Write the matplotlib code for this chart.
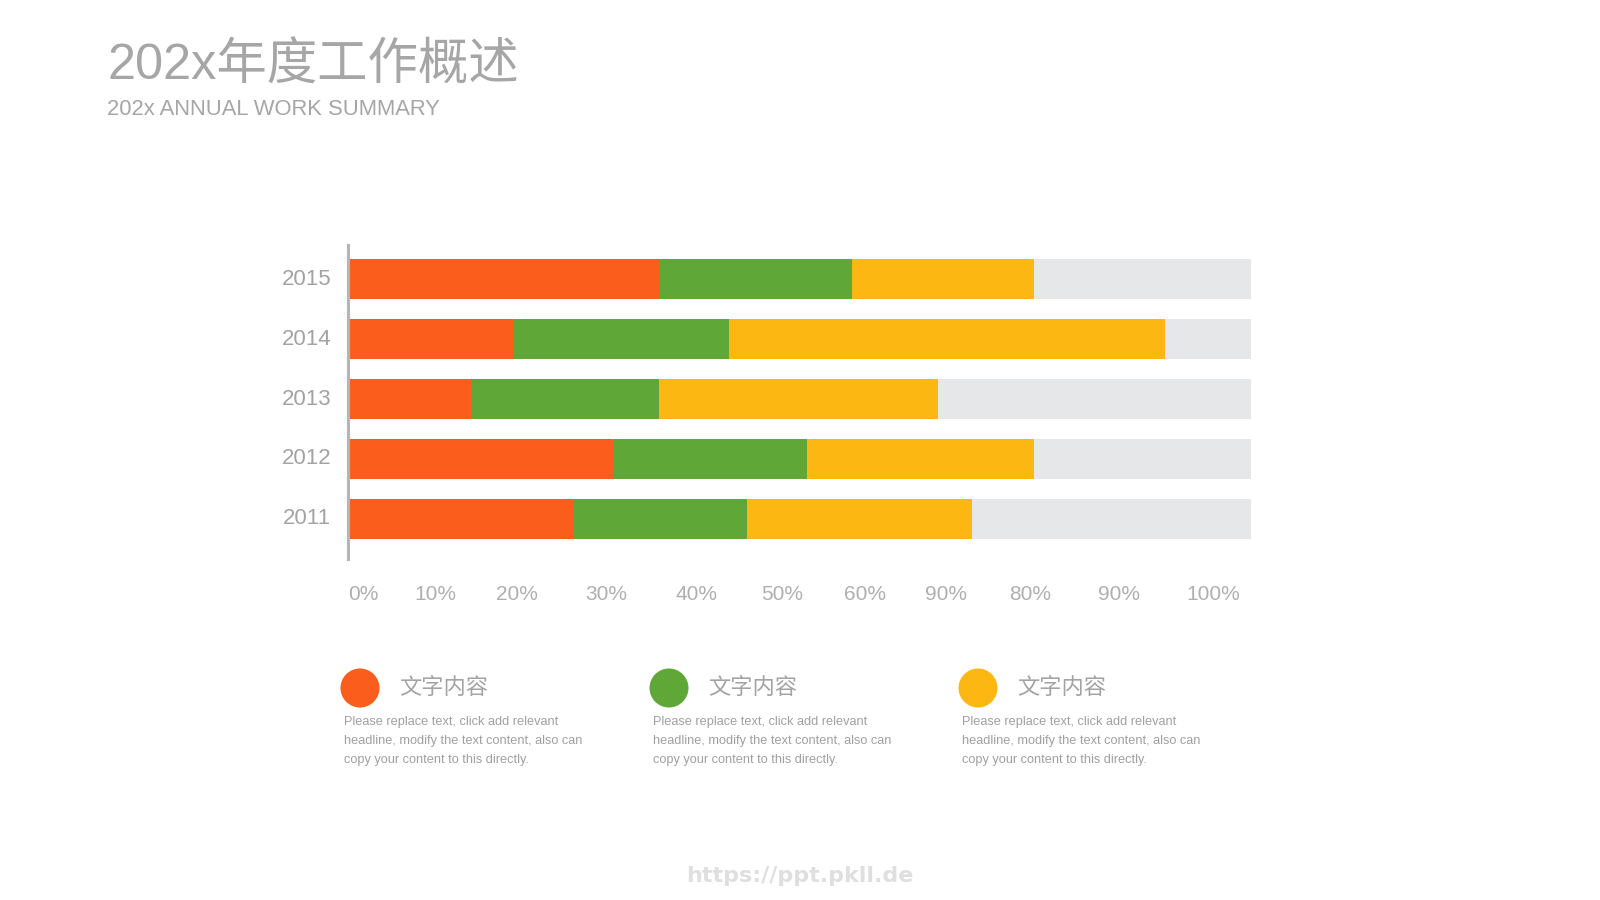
import matplotlib
matplotlib.use("Agg")
import matplotlib.pyplot as plt
from matplotlib.patches import Ellipse
import numpy as np

plt.rcParams['font.family'] = ['Liberation Sans', 'Noto Sans CJK SC', 'DejaVu Sans']

# ---- data ----
years = ["2011", "2012", "2013", "2014", "2015"]
orange_vals = [24.7, 29.2, 13.4, 18.2, 34.4]
green_vals = [19.4, 21.5, 20.9, 23.8, 21.3]
yellow_vals = [24.9, 25.2, 30.9, 48.4, 20.2]
total = 100
tick_labels = ["0%", "10%", "20%", "30%", "40%", "50%", "60%", "90%", "80%", "90%", "100%"]
tick_pos = [1.5, 9.4, 18.5, 28.4, 38.4, 47.9, 57.1, 66.1, 75.5, 85.4, 95.8]
legend_names = ["文字内容", "文字内容", "文字内容"]
legend_desc = "Please replace text, click add relevant\nheadline, modify the text content, also can\ncopy your content to this directly."

title = "202x年度工作概述"
subtitle = "202x ANNUAL WORK SUMMARY"
watermark = "https://ppt.pkll.de"

c_orange = "#FB5E1C"
c_green = "#5FA737"
c_yellow = "#FDB713"
c_gray = "#E6E7E9"
txt_gray = "#A3A3A3"

W, H = 1600, 900
fig = plt.figure(figsize=(16, 9), dpi=100)
fig.patch.set_facecolor("white")

# bar axes
ax_left, ax_right = 348, 1251
ax_top, ax_bot = 245, 559
ax = fig.add_axes([ax_left / W, 1 - ax_bot / H, (ax_right - ax_left) / W, (ax_bot - ax_top) / H])
y = np.arange(len(years))
o = np.array(orange_vals)
g = np.array(green_vals)
yl = np.array(yellow_vals)
rest = total - o - g - yl
bh = 0.667
ax.barh(y, o, height=bh, color=c_orange, left=0)
ax.barh(y, g, height=bh, color=c_green, left=o)
ax.barh(y, yl, height=bh, color=c_yellow, left=o + g)
ax.barh(y, rest, height=bh, color=c_gray, left=o + g + yl)
ax.set_xlim(-0.25, 100)
ax.set_ylim(-0.667, 4.567)
for s in ["top", "right", "bottom"]:
    ax.spines[s].set_visible(False)
ax.spines["left"].set_color("#B5B5B5")
ax.spines["left"].set_linewidth(2.2)
ax.set_yticks(y, years)
ax.set_xticks(tick_pos, tick_labels)
ax.tick_params(axis="y", length=0, pad=12, labelsize=16, labelcolor=txt_gray)
ax.tick_params(axis="x", length=0, pad=18.5, labelsize=15, labelcolor="#AFAFAF")
for lab in ax.get_yticklabels():
    lab.set_va("center")
ax.set_facecolor("none")

# titles
fig.text(107 / W, 1 - 80 / H, title, fontsize=36.3, color="#A6A6A6", ha="left", va="baseline")
fig.text(107 / W, 1 - 115 / H, subtitle, fontsize=15.8, color="#A6A6A6", ha="left", va="baseline")

# legend
overlay = fig.add_axes([0, 0, 1, 1])
overlay.set_xlim(0, W)
overlay.set_ylim(H, 0)
overlay.axis("off")
overlay.set_facecolor("none")
cx = [360, 669, 978]
colors = [c_orange, c_green, c_yellow]
for i in range(3):
    overlay.add_patch(Ellipse((cx[i], 688), 39, 39, color=colors[i], lw=0))
    overlay.text(cx[i] + 39, 687, legend_names[i], fontsize=16, color=txt_gray,
                 ha="left", va="center", family=['Noto Sans CJK SC', 'DejaVu Sans'])
    overlay.text(cx[i] - 16, 716, legend_desc, fontsize=9.2, color="#A0A0A0",
                 ha="left", va="top", linespacing=1.75,
                 family=['Liberation Sans'])

overlay.text(800, 876, watermark, fontsize=16, color="#DFDFDF", ha="center", va="center",
             fontweight="bold", family=['DejaVu Sans'])

fig.savefig("out.png", dpi=100, facecolor="white")
